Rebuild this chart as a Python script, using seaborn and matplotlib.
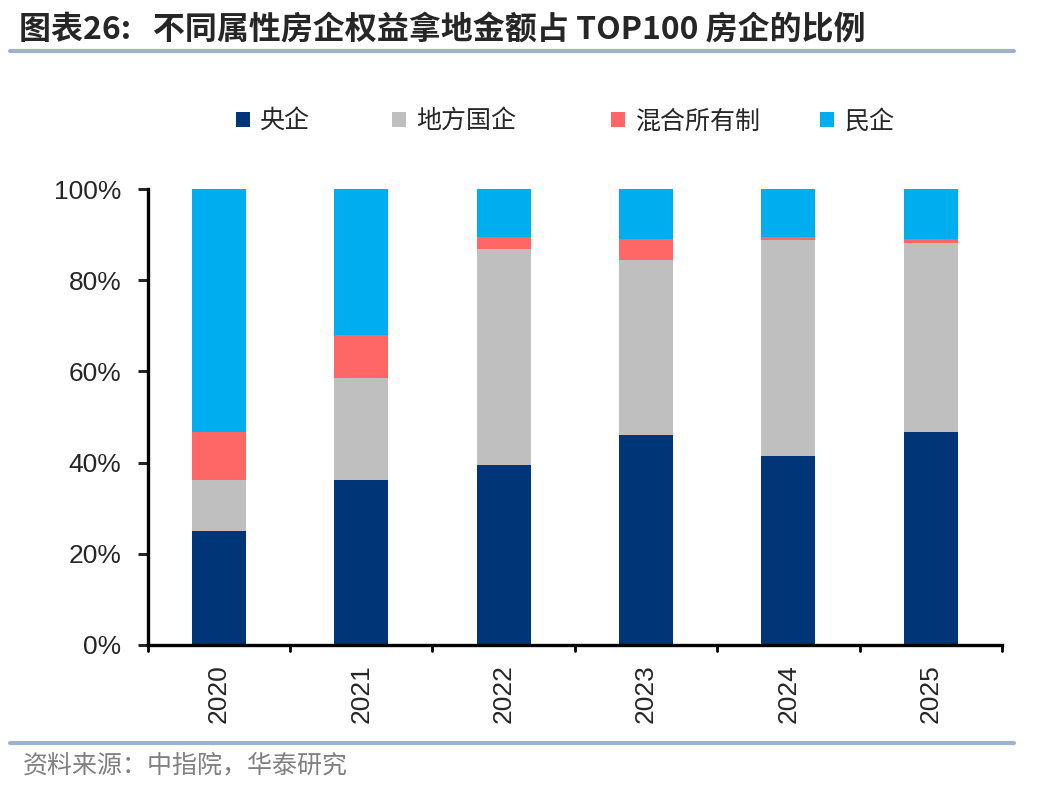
import numpy as np
import pandas as pd
import matplotlib
matplotlib.use("Agg")
import matplotlib.pyplot as plt
import seaborn as sns
from matplotlib.patches import Patch

years = ["2020", "2021", "2022", "2023", "2024", "2025"]
central = [25.0, 36.2, 39.5, 46.1, 41.5, 46.8]      # 央企
local = [11.2, 22.4, 47.4, 38.3, 47.4, 41.5]        # 地方国企
mixed = [10.6, 9.5, 2.7, 4.6, 0.7, 0.7]             # 混合所有制
private = [100 - a - b - c for a, b, c in zip(central, local, mixed)]  # 民企

series_names = ["央企", "地方国企", "混合所有制", "民企"]
colors = ["#003678", "#BFBFBF", "#FF6666", "#00AEEF"]

sns.set_style("white")
plt.rcParams["font.family"] = ["Liberation Sans", "Noto Sans CJK SC", "DejaVu Sans"]

fig = plt.figure(figsize=(10.48, 7.92), dpi=100)
ax = fig.add_axes([0.141, 0.186, 0.815, 0.575])

# cumulative tops, drawn from the tallest layer down
cum = np.cumsum(np.array([central, local, mixed, private]), axis=0)
for i in range(3, -1, -1):
    df = pd.DataFrame({"year": years, "value": cum[i]})
    sns.barplot(data=df, x="year", y="value", color=colors[i], width=0.38,
                saturation=1, ax=ax, edgecolor="none", linewidth=0)

ax.set_ylim(0, 100)
ax.set_xlim(-0.5, 5.5)
ax.set_yticks(range(0, 101, 20))
ax.set_yticklabels([f"{v}%" for v in range(0, 101, 20)], fontsize=19)
ax.set_xticks(range(6))
ax.set_xticklabels(years, rotation=90, fontsize=19)
ax.tick_params(axis="x", length=0, pad=14)
ax.tick_params(axis="y", direction="out", length=7, width=2.2, left=True, pad=12)
for x in np.arange(-0.5, 5.6, 1):
    ax.plot([x, x], [0, -0.014], transform=ax.get_xaxis_transform(),
            color="black", lw=2, clip_on=False)
ax.set_xlabel("")
ax.set_ylabel("")
for s in ["top", "right"]:
    ax.spines[s].set_visible(False)
for s in ["left", "bottom"]:
    ax.spines[s].set_color("black")
    ax.spines[s].set_linewidth(2.4)

# legend entries placed one by one, as in the reference
leg_x = [0.225, 0.374, 0.583, 0.782]
for name, c, lx in zip(series_names, colors, leg_x):
    lg = fig.legend([Patch(facecolor=c, edgecolor="none")], [name],
                    loc="center left", bbox_to_anchor=(lx, 0.847),
                    frameon=False, borderpad=0, borderaxespad=0,
                    handlelength=0.58, handleheight=0.58, handletextpad=0.4,
                    prop={"family": ["Noto Sans CJK SC"], "size": 18})

fig.text(0.018, 0.962, "图表26:   不同属性房企权益拿地金额占 TOP100 房企的比例",
         fontsize=23, fontweight="bold", family=["Noto Sans CJK SC"], va="center")
fig.add_artist(plt.Line2D([0.01, 0.968], [0.935, 0.935], color="#9DB3CB", lw=3))
fig.add_artist(plt.Line2D([0.01, 0.968], [0.062, 0.062], color="#9DB3CB", lw=3))
fig.text(0.022, 0.033, "资料来源：中指院，华泰研究", fontsize=18, color="#808080",
         family=["Noto Sans CJK SC"], va="center")

fig.savefig("out.png", dpi=100)
